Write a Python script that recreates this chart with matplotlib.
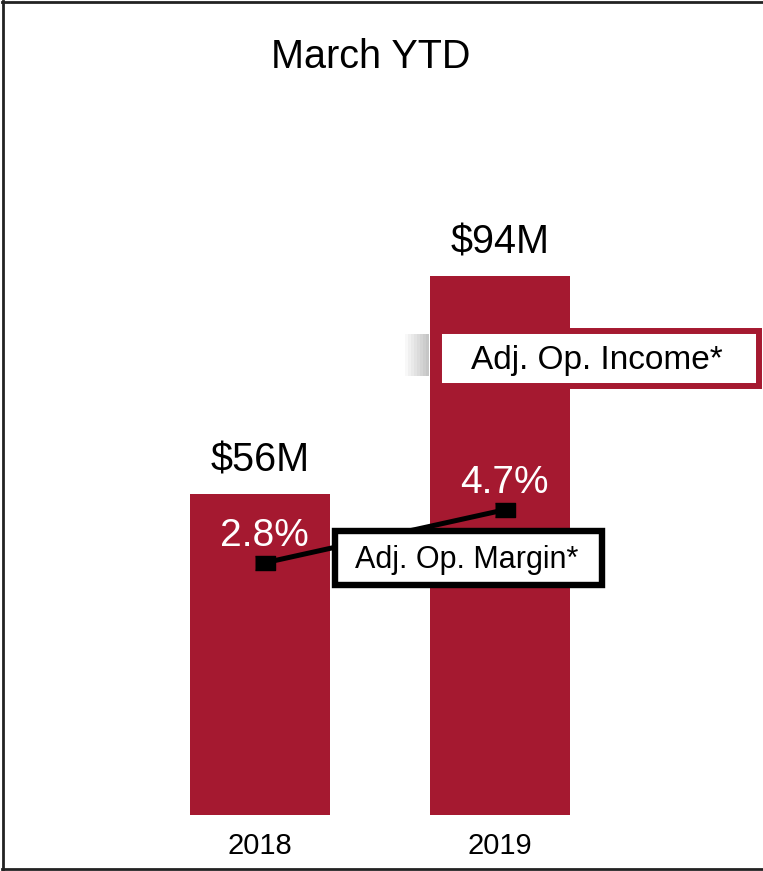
import matplotlib
matplotlib.use('Agg')
import matplotlib.pyplot as plt
from matplotlib.patches import Rectangle
from matplotlib.lines import Line2D

# chart data
years = ['2018', '2019']
income = [56, 94]            # Adj. Op. Income, $M
income_labels = ['$56M', '$94M']
margin = [2.8, 4.7]          # Adj. Op. Margin, %
margin_labels = ['2.8%', '4.7%']

W, H = 763, 871
RED = '#A51930'

plt.rcParams['font.family'] = ['Liberation Sans', 'DejaVu Sans']

fig = plt.figure(figsize=(W / 100, H / 100), dpi=100)


def fx(x):
    return x / W


def fy(y):
    return 1 - y / H


# bars: axis bottom at y=815px, 0..120 over 688px
ax = fig.add_axes([fx(20), fy(815), 720 / W, 688 / H])
x = range(len(years))
ax.bar(x, income, width=0.583, color=RED, zorder=2)
ax.set_xlim(-1.0, 2.0)
ax.set_ylim(0, 120)
for i, v in enumerate(income):
    ax.annotate(income_labels[i].replace('$', r'\$'), (i, v), xytext=(0, 24),
                textcoords='offset points', ha='center', va='center',
                fontsize=28.5, color='black')
ax.set_xticks(list(x))
ax.set_xticklabels(years, fontsize=21,
                   family=['Liberation Sans Narrow', 'Liberation Sans'])
ax.tick_params(axis='x', length=0, pad=12)
ax.set_yticks([])
for s in ax.spines.values():
    s.set_visible(False)
ax.patch.set_alpha(0)

# margin line on its own scale
ax2 = ax.twinx()
ax2.set_ylim(-6.24, 18.42)
xm = [i + 0.02 for i in x]
ax2.plot(xm, margin, color='black', lw=3.6, zorder=3,
         marker=[(-1, -0.7), (1, -0.7), (1, 0.7), (-1, 0.7)],
         markersize=15, markerfacecolor='black', markeredgecolor='black')
for i, v in enumerate(margin):
    ax2.annotate(margin_labels[i], (xm[i], v), xytext=(0, 19),
                 textcoords='offset points', ha='center', va='center',
                 fontsize=28, color='white')
ax2.set_yticks([])
for s in ax2.spines.values():
    s.set_visible(False)
ax2.patch.set_alpha(0)

# title
fig.text(fx(371), fy(57), 'March YTD', ha='center', va='center', fontsize=28.5)

# blurred shadow next to the income label
for k in range(8):
    fig.patches.append(Rectangle((fx(405 + k * 3), fy(376)), 3 / W, 42 / H,
                                 transform=fig.transFigure, facecolor='#888888',
                                 alpha=0.06 + k * 0.06, edgecolor='none', zorder=4))

# legend-style callouts
fig.patches.append(Rectangle((fx(439), fy(386)), 320 / W, 55 / H,
                             transform=fig.transFigure, facecolor='white',
                             edgecolor=RED, lw=4.3, zorder=5))
fig.text(fx(597), fy(360), 'Adj. Op. Income*', ha='center', va='center',
         fontsize=24, zorder=6)

fig.patches.append(Rectangle((fx(335), fy(585)), 267 / W, 54 / H,
                             transform=fig.transFigure, facecolor='white',
                             edgecolor='black', lw=4.6, zorder=5))
fig.text(fx(467), fy(560), 'Adj. Op. Margin*', ha='center', va='center',
         fontsize=22, zorder=6)

# outer frame (left, top, bottom)
for xs, ys in [((fx(3), fx(3)), (fy(1), fy(869))),
               ((fx(2), 1), (fy(2), fy(2))),
               ((fx(2), 1), (fy(868.5), fy(868.5)))]:
    fig.lines.append(Line2D(xs, ys, transform=fig.transFigure,
                            color='#222222', lw=2))

fig.savefig('out.png', dpi=100)
